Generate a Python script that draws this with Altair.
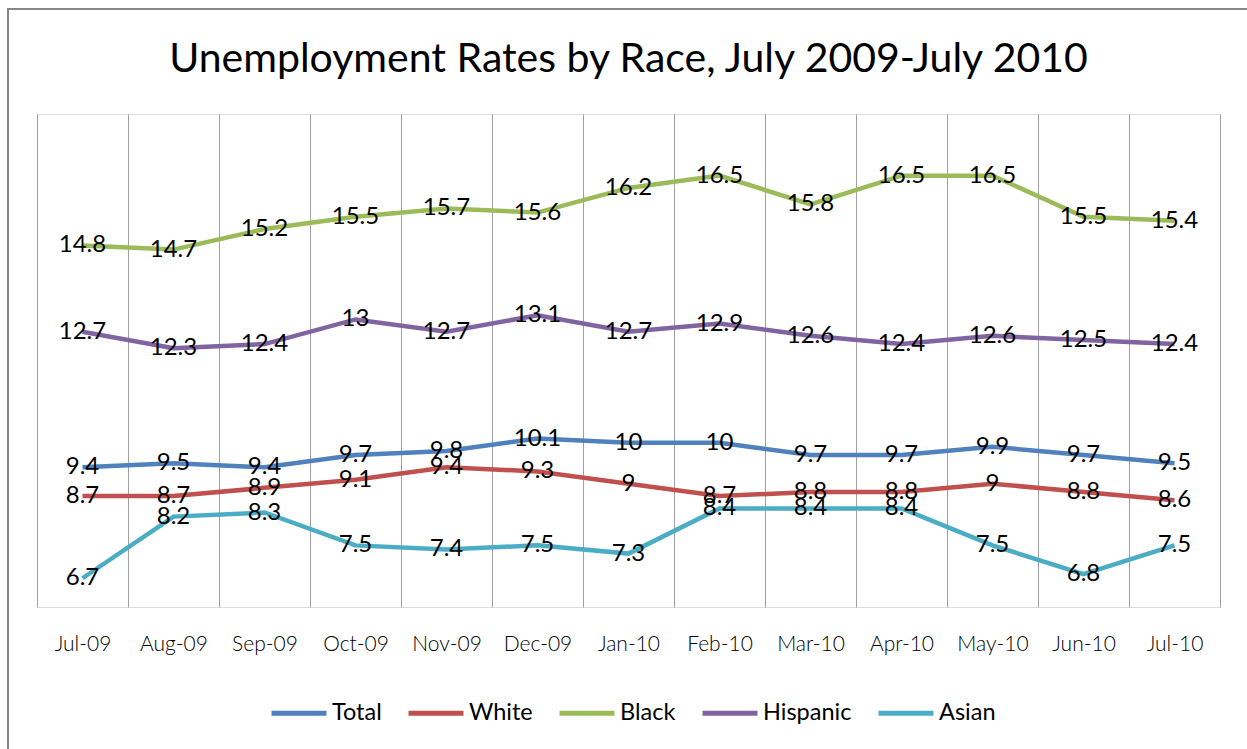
import altair as alt
import pandas as pd

months = ["Jul-09", "Aug-09", "Sep-09", "Oct-09", "Nov-09", "Dec-09", "Jan-10",
          "Feb-10", "Mar-10", "Apr-10", "May-10", "Jun-10", "Jul-10"]
total = [9.4, 9.5, 9.4, 9.7, 9.8, 10.1, 10, 10, 9.7, 9.7, 9.9, 9.7, 9.5]
white = [8.7, 8.7, 8.9, 9.1, 9.4, 9.3, 9, 8.7, 8.8, 8.8, 9, 8.8, 8.6]
black = [14.8, 14.7, 15.2, 15.5, 15.7, 15.6, 16.2, 16.5, 15.8, 16.5, 16.5, 15.5, 15.4]
hispanic = [12.7, 12.3, 12.4, 13, 12.7, 13.1, 12.7, 12.9, 12.6, 12.4, 12.6, 12.5, 12.4]
asian = [6.7, 8.2, 8.3, 7.5, 7.4, 7.5, 7.3, 8.4, 8.4, 8.4, 7.5, 6.8, 7.5]

series = ["Total", "White", "Black", "Hispanic", "Asian"]
colors = ["#4F81BD", "#C0504D", "#9BBB59", "#8064A2", "#4BACC6"]

rows = []
for name, vals in zip(series, [total, white, black, hispanic, asian]):
    for m, v in zip(months, vals):
        rows.append({"Month": m, "Race": name, "Rate": v, "Label": f"{v:g}"})
df = pd.DataFrame(rows)

FONT = "Lato"

x = alt.X(
    "Month:O",
    sort=months,
    scale=alt.Scale(type="band", paddingInner=0, paddingOuter=0),
    bandPosition=0.5,
    axis=alt.Axis(
        title=None, labelAngle=0, tickBand="extent", grid=True,
        gridColor="#A0A0A0", gridWidth=1, domain=False, ticks=False,
        labelFont=FONT, labelFontSize=21, labelPadding=26, labelColor="black",
        labelFontWeight=300,
    ),
)
y = alt.Y("Rate:Q", scale=alt.Scale(domain=[6, 18], nice=False, zero=False), axis=None)

color = alt.Color(
    "Race:N",
    sort=series,
    scale=alt.Scale(domain=series, range=colors),
    legend=alt.Legend(
        title=None, orient="none", legendX=232, legendY=569,
        direction="horizontal", symbolType="stroke", symbolSize=3025,
        symbolStrokeWidth=5, labelFont=FONT, labelFontSize=23.5, labelOffset=3,
        columnPadding=16, labelColor="black",
    ),
)

base = alt.Chart(df)
lines = base.mark_line(strokeWidth=4.5).encode(x=x, y=y, color=color)
labels = base.mark_text(font=FONT, fontSize=24, color="black", align="center",
                        baseline="middle").encode(
    x=alt.X("Month:O", sort=months, bandPosition=0.5), y=y, text="Label:N",
    detail="Race:N")

border = alt.Chart(alt.Data(values=[{"a": 1}])).mark_rect(
    fill="transparent", stroke="#868686", strokeWidth=2
).encode(x=alt.value(-29), x2=alt.value(1260), y=alt.value(-105), y2=alt.value(700))

chart = alt.layer(border, lines, labels).properties(
    width=1183,
    height=493,
    padding={"left": 37, "top": 114, "right": 27, "bottom": 142},
    autosize=alt.AutoSizeParams(type="none"),
    title=alt.Title(
        "Unemployment Rates by Race, July 2009-July 2010",
        font=FONT, fontSize=41, fontWeight="normal", color="black",
        anchor="middle", frame="group", baseline="alphabetic", offset=-105,
    ),
).configure_view(stroke="#A0A0A0", strokeWidth=1).configure(background="white")

chart.save("out.html", embed_options={"renderer": "svg", "actions": False})
